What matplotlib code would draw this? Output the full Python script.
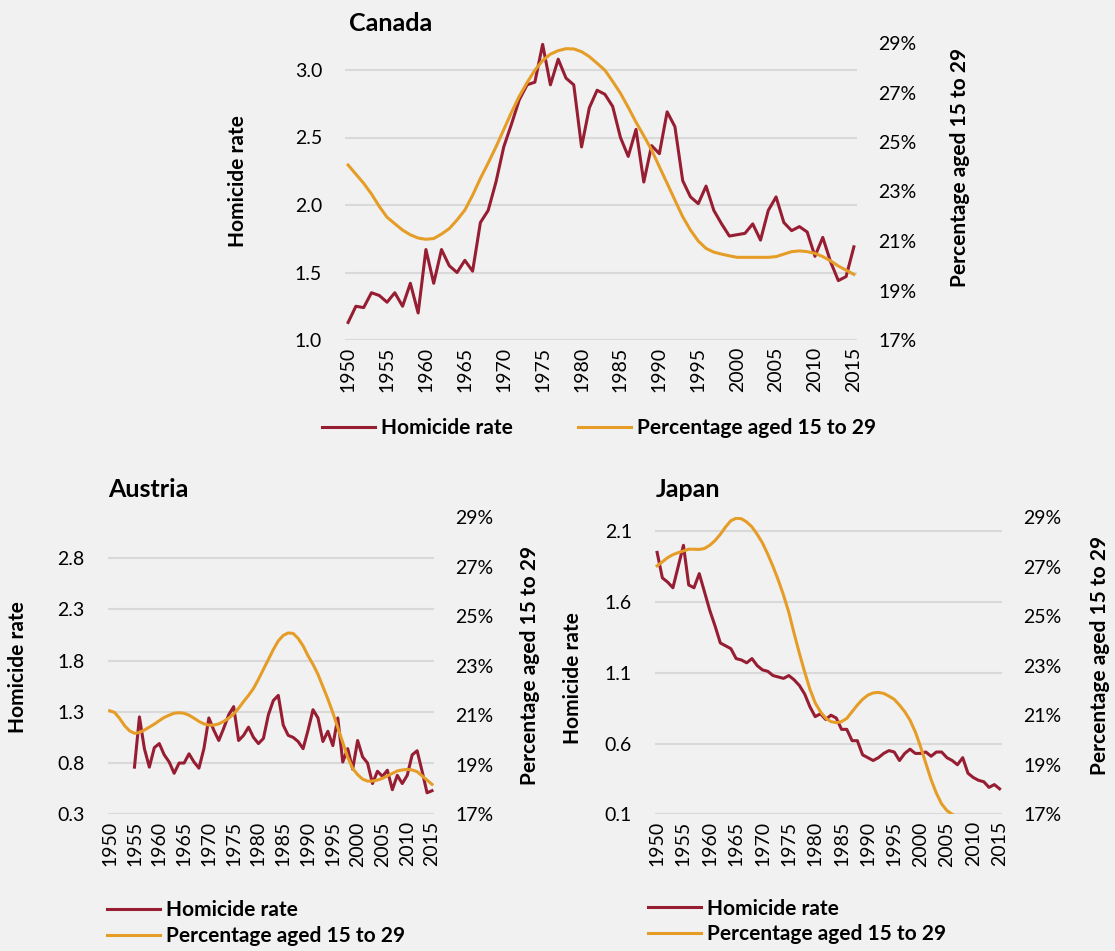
import numpy as np
import matplotlib.pyplot as plt
from matplotlib.ticker import FuncFormatter

plt.rcParams['font.family'] = ['Lato', 'DejaVu Sans']

years = np.arange(1950, 2016)

# Canada
canada_homicide = [
    1.13, 1.25, 1.24, 1.35, 1.33, 1.28, 1.35, 1.25, 1.42, 1.20,
    1.67, 1.42, 1.67, 1.55, 1.50, 1.59, 1.51, 1.87, 1.96, 2.17,
    2.43, 2.60, 2.78, 2.89, 2.91, 3.19, 2.89, 3.08, 2.94, 2.89,
    2.43, 2.72, 2.85, 2.82, 2.73, 2.50, 2.36, 2.56, 2.17, 2.44,
    2.38, 2.69, 2.58, 2.18, 2.06, 2.01, 2.14, 1.96, 1.86, 1.77,
    1.78, 1.79, 1.86, 1.74, 1.96, 2.06, 1.87, 1.81, 1.84, 1.80,
    1.62, 1.76, 1.58, 1.44, 1.47, 1.69]
canada_pct = [
    24.07, 23.70, 23.33, 22.90, 22.40, 21.96, 21.70, 21.44, 21.25, 21.12,
    21.07, 21.10, 21.28, 21.50, 21.85, 22.25, 22.85, 23.53, 24.15, 24.80,
    25.50, 26.20, 26.85, 27.40, 27.90, 28.29, 28.55, 28.69, 28.77, 28.76,
    28.65, 28.45, 28.18, 27.90, 27.45, 26.97, 26.40, 25.80, 25.25, 24.68,
    24.00, 23.33, 22.65, 21.98, 21.44, 21.00, 20.70, 20.55, 20.47, 20.40,
    20.34, 20.34, 20.34, 20.34, 20.34, 20.37, 20.47, 20.57, 20.60, 20.57,
    20.50, 20.37, 20.20, 19.99, 19.82, 19.65]

# Austria (homicide series starts in 1955)
austria_homicide = [
    np.nan, np.nan, np.nan, np.nan, np.nan, 0.76, 1.25, 0.94, 0.76, 0.95,
    0.99, 0.88, 0.81, 0.70, 0.80, 0.80, 0.89, 0.81, 0.75, 0.94,
    1.24, 1.12, 1.02, 1.14, 1.27, 1.35, 1.02, 1.07, 1.15, 1.05,
    0.99, 1.04, 1.27, 1.41, 1.46, 1.17, 1.07, 1.05, 1.01, 0.94,
    1.12, 1.32, 1.24, 1.01, 1.11, 0.97, 1.24, 0.81, 0.94, 0.74,
    1.02, 0.86, 0.80, 0.60, 0.72, 0.67, 0.73, 0.54, 0.68, 0.60,
    0.68, 0.88, 0.92, 0.72, 0.51, 0.53]
austria_pct = [
    21.18, 21.11, 20.87, 20.58, 20.37, 20.27, 20.30, 20.40, 20.52, 20.64,
    20.78, 20.91, 21.00, 21.08, 21.10, 21.08, 21.00, 20.88, 20.75, 20.65,
    20.60, 20.60, 20.65, 20.75, 20.88, 21.05, 21.28, 21.55, 21.80, 22.08,
    22.45, 22.85, 23.25, 23.65, 24.00, 24.22, 24.32, 24.30, 24.10, 23.80,
    23.40, 23.05, 22.65, 22.15, 21.65, 21.10, 20.50, 19.90, 19.30, 18.85,
    18.60, 18.42, 18.34, 18.34, 18.38, 18.45, 18.55, 18.65, 18.75, 18.79,
    18.81, 18.79, 18.72, 18.55, 18.38, 18.21]

# Japan
japan_homicide = [
    1.95, 1.77, 1.74, 1.70, 1.85, 2.00, 1.72, 1.70, 1.80, 1.67,
    1.54, 1.43, 1.31, 1.29, 1.27, 1.20, 1.19, 1.17, 1.20, 1.15,
    1.12, 1.11, 1.08, 1.07, 1.06, 1.08, 1.05, 1.01, 0.95, 0.86,
    0.79, 0.81, 0.77, 0.80, 0.78, 0.70, 0.70, 0.62, 0.62, 0.52,
    0.50, 0.48, 0.50, 0.53, 0.55, 0.54, 0.48, 0.53, 0.56, 0.53,
    0.53, 0.54, 0.51, 0.54, 0.54, 0.50, 0.48, 0.45, 0.50, 0.39,
    0.36, 0.34, 0.33, 0.29, 0.31, 0.28]
japan_pct = [
    27.03, 27.19, 27.36, 27.48, 27.56, 27.63, 27.70, 27.70, 27.69, 27.73,
    27.86, 28.05, 28.30, 28.60, 28.85, 28.95, 28.93, 28.80, 28.60, 28.30,
    27.95, 27.50, 27.00, 26.45, 25.84, 25.15, 24.30, 23.50, 22.75, 22.05,
    21.50, 21.14, 20.88, 20.74, 20.70, 20.74, 20.87, 21.14, 21.41, 21.64,
    21.81, 21.90, 21.92, 21.88, 21.77, 21.64, 21.41, 21.14, 20.80, 20.33,
    19.73, 19.06, 18.40, 17.85, 17.42, 17.15, 17.00, 16.90, 16.80, 16.70,
    16.60, 16.50, 16.40, 16.30, 16.20, 16.10]

RED = '#971D32'
ORANGE = '#E59D27'
BG = '#F1F1F1'
W, H = 1115, 951

fig = plt.figure(figsize=(11.15, 9.51), dpi=100, facecolor=BG)


def box(l, r, t, b):
    return [l / W, 1 - b / H, (r - l) / W, (b - t) / H]


def panel(rect, hom, pct, ylo, yhi, yticks):
    ax = fig.add_axes(rect)
    ax.set_facecolor(BG)
    for s in ax.spines.values():
        s.set_visible(False)
    ax.set_xlim(1949.6, 2015.4)
    ax.set_ylim(ylo, yhi)
    ax.set_yticks(yticks)
    ax.set_yticklabels([f'{v:.1f}' for v in yticks])
    ax.yaxis.grid(True, color='#D9D9D9', lw=1.5)
    ax.set_axisbelow(True)
    ax.set_xticks(range(1950, 2016, 5))
    ax.tick_params(length=0, labelsize=14)
    ax.tick_params(axis='x', labelrotation=90, pad=5)
    ax.tick_params(axis='y', pad=16.5)

    ax2 = ax.twinx()
    for s in ax2.spines.values():
        s.set_visible(False)
    ax2.set_ylim(17, 29)
    ax2.set_yticks(range(17, 30, 2))
    ax2.yaxis.set_major_formatter(FuncFormatter(lambda v, p: f'{v:.0f}%'))
    ax2.tick_params(length=0, labelsize=14, pad=15.5)

    l1, = ax.plot(years, hom, color=RED, lw=2.2)
    l2, = ax2.plot(years, pct, color=ORANGE, lw=2.2)
    return l1, l2


labels = ['Homicide rate', 'Percentage aged 15 to 29']
bold = dict(weight='bold', size=15)

# Canada
h = panel(box(345, 857, 43, 340), canada_homicide, canada_pct, 1.0, 3.2,
          [1.0, 1.5, 2.0, 2.5, 3.0])
fig.text(349 / W, 1 - 31 / H, 'Canada', fontsize=18, weight='bold', va='baseline')
fig.text(238 / W, 1 - 181 / H, 'Homicide rate', rotation=90, ha='center', va='center', **bold)
fig.text(960 / W, 1 - 167 / H, 'Percentage aged 15 to 29', rotation=90, ha='center', va='center', **bold)
fig.legend(h, labels, loc='center left', bbox_to_anchor=(322 / W, 1 - 428 / H), ncol=2,
           frameon=False, handlelength=2.55, handletextpad=0.3, columnspacing=3.1,
           borderpad=0, borderaxespad=0, prop=bold)

# Austria
h = panel(box(107.7, 434, 517, 814.3), austria_homicide, austria_pct, 0.3, 3.2,
          [0.3, 0.8, 1.3, 1.8, 2.3, 2.8])
fig.text(108 / W, 1 - 497 / H, 'Austria', fontsize=18, weight='bold', va='baseline')
fig.text(18 / W, 1 - 667 / H, 'Homicide rate', rotation=90, ha='center', va='center', **bold)
fig.text(530 / W, 1 - 665 / H, 'Percentage aged 15 to 29', rotation=90, ha='center', va='center', **bold)
fig.legend(h, labels, loc='center left', bbox_to_anchor=(106.7 / W, 1 - 923.3 / H), ncol=1,
           frameon=False, handlelength=2.55, handletextpad=0.3, labelspacing=0.28,
           borderpad=0, borderaxespad=0, prop=bold)

# Japan
h = panel(box(655, 1001.7, 517, 814.3), japan_homicide, japan_pct, 0.1, 2.2,
          [0.1, 0.6, 1.1, 1.6, 2.1])
fig.text(656 / W, 1 - 497 / H, 'Japan', fontsize=18, weight='bold', va='baseline')
fig.text(573 / W, 1 - 678 / H, 'Homicide rate', rotation=90, ha='center', va='center', **bold)
fig.text(1100 / W, 1 - 655 / H, 'Percentage aged 15 to 29', rotation=90, ha='center', va='center', **bold)
fig.legend(h, labels, loc='center left', bbox_to_anchor=(648 / W, 1 - 921.5 / H), ncol=1,
           frameon=False, handlelength=2.55, handletextpad=0.3, labelspacing=0.28,
           borderpad=0, borderaxespad=0, prop=bold)

fig.savefig('out.png', dpi=100, facecolor=BG)
